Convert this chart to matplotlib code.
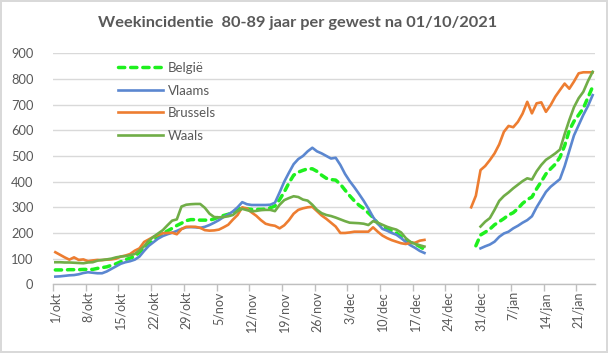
import numpy as np
import matplotlib
matplotlib.use("Agg")
import matplotlib.pyplot as plt

plt.rcParams['font.family'] = ['Lato', 'DejaVu Sans']

N = np.nan
title = "Weekincidentie  80-89 jaar per gewest na 01/10/2021"
tick_labels = ["1/okt", "8/okt", "15/okt", "22/okt", "29/okt", "5/nov", "12/nov",
               "19/nov", "26/nov", "3/dec", "10/dec", "17/dec", "24/dec", "31/dec",
               "7/jan", "14/jan", "21/jan"]
n_days = 116

belgie = [56, 56, 56, 57, 57, 57, 58, 58, 58, 62, 65, 68, 74, 80, 88, 96, 102, 108, 125, 140,
          157, 172, 185, 197, 208, 218, 229, 238, 248, 252, 252, 250, 250, 250, 255, 262, 268, 273, 280, 292,
          298, 294, 292, 292, 292, 293, 298, 305, 330, 360, 395, 425, 437, 444, 450, 450, 440, 425, 413, 408,
          406, 390, 367, 345, 325, 308, 295, 278, 260, 238, 225, 215, 208, 200, 185, 170, 163, 157, 147, 136,
          N, N, N, N, N, N, N, N, N, N,
          150, 192, 203, 215, 232, 244, 256, 270, 279, 295, 315, 330, 340, 372, 400, 430, 450, 468, 495, 540,
          600, 635, 660, 686, 728, 770]
vlaams = [30, 31, 33, 35, 36, 39, 44, 47, 45, 43, 43, 50, 60, 70, 80, 86, 90, 96, 108, 130,
          150, 164, 178, 188, 195, 201, 208, 216, 222, 223, 222, 220, 224, 231, 240, 250, 262, 272, 284, 300,
          320, 312, 309, 309, 309, 309, 310, 318, 358, 400, 435, 468, 488, 500, 518, 532, 518, 510, 500, 490,
          493, 465, 430, 402, 378, 352, 325, 295, 262, 237, 216, 209, 200, 193, 180, 165, 152, 142, 130, 122,
          N, N, N, N, N, N, N, N, N, N,
          N, 140, 148, 155, 166, 185, 198, 205, 218, 228, 240, 250, 265, 300, 330, 360, 380, 395, 410, 460,
          520, 580, 620, 660, 695, 737]
brussels = [125, 115, 105, 96, 105, 95, 97, 90, 93, 95, 94, 96, 97, 100, 108, 112, 118, 131, 140, 165,
            175, 185, 192, 199, 200, 201, 195, 215, 224, 224, 224, 220, 211, 209, 210, 213, 222, 232, 252, 270,
            300, 295, 280, 267, 250, 236, 231, 228, 218, 230, 250, 275, 290, 296, 300, 302, 285, 268, 255, 240,
            225, 200, 200, 202, 205, 205, 205, 205, 222, 205, 190, 180, 172, 166, 160, 157, 162, 162, 170, 173,
            N, N, N, N, N, N, N, N, N,
            300, 345, 445, 461, 484, 510, 545, 594, 617, 612, 633, 665, 711, 666, 705, 709, 672, 698, 731, 757,
            782, 762, 790, 822, 826, 826, 826]
waals = [86, 86, 85, 85, 84, 83, 82, 85, 86, 92, 95, 97, 100, 105, 108, 110, 113, 118, 132, 148,
         170, 185, 198, 211, 230, 248, 253, 303, 310, 312, 313, 313, 298, 275, 262, 261, 262, 265, 270, 285,
         294, 289, 284, 286, 289, 290, 290, 285, 310, 328, 336, 343, 340, 330, 326, 310, 290, 277, 270, 266,
         260, 253, 246, 240, 239, 238, 236, 231, 246, 240, 232, 224, 218, 213, 202, 180, 165, 157, 152, 147,
         N, N, N, N, N, N, N, N, N, N,
         N, 225, 244, 258, 290, 325, 344, 358, 374, 388, 402, 413, 408, 440, 465, 485, 497, 510, 525, 585,
         640, 690, 725, 750, 792, 828]

series_names = ["België", "Vlaams", "Brussels", "Waals"]
series_vals = [belgie, vlaams, brussels, waals]
colors = ["#1EF01E", "#5B87D0", "#ED7D31", "#70AD47"]

W, H = 608, 353
fig = plt.figure(figsize=(W / 100, H / 100), dpi=100)
fig.patch.set_facecolor("white")
fig.patch.set_edgecolor("#D9D9D9")
fig.patch.set_linewidth(1.5)

ax = fig.add_axes([53 / W, 1 - 284.3 / H, (595 - 53) / W, (284.3 - 53.3) / H])
x = np.arange(n_days)

for name, vals, c in zip(series_names, series_vals, colors):
    y = np.array(vals, dtype=float)
    if name == "België":
        ax.plot(x, y, color=c, lw=2.5, linestyle=(0, (1.8, 1.7)),
                dash_capstyle="round", label=name, zorder=3)
    else:
        ax.plot(x, y, color=c, lw=1.9, label=name, zorder=3,
                solid_joinstyle="round")

ax.set_xlim(-0.5, n_days - 0.5)
ax.set_ylim(0, 900)
ax.set_yticks(np.arange(0, 901, 100))
ax.yaxis.grid(True, color="#D9D9D9", lw=1.0)
ax.set_axisbelow(True)
for s in ["top", "right", "left"]:
    ax.spines[s].set_visible(False)
ax.spines["bottom"].set_color("#BFBFBF")
ax.spines["bottom"].set_linewidth(1.0)
ax.tick_params(axis="y", length=0, pad=14, labelsize=9.3, labelcolor="#595959")

major = np.arange(0, n_days, 7)
ax.set_xticks(major)
ax.set_xticklabels(tick_labels, rotation=90, fontsize=9, color="#595959")
ax.set_xticks(np.arange(-0.5, n_days - 1, 7), minor=True)
ax.tick_params(axis="x", which="major", length=0, pad=5)
ax.tick_params(axis="x", which="minor", length=5, color="#BFBFBF", width=1)

fig.text(0.49, 1 - 22.5 / H, title, ha="center", va="center", fontsize=11.8,
         fontweight="bold", color="#595959")

leg = ax.legend(loc="upper left", bbox_to_anchor=(118 / W, 1 - 62 / H),
                bbox_transform=fig.transFigure, frameon=False, fontsize=9.5,
                handlelength=3.4, handletextpad=0.4, labelspacing=0.8,
                borderpad=0, borderaxespad=0)
for t in leg.get_texts():
    t.set_color("#595959")

fig.savefig("out.png", dpi=100)
